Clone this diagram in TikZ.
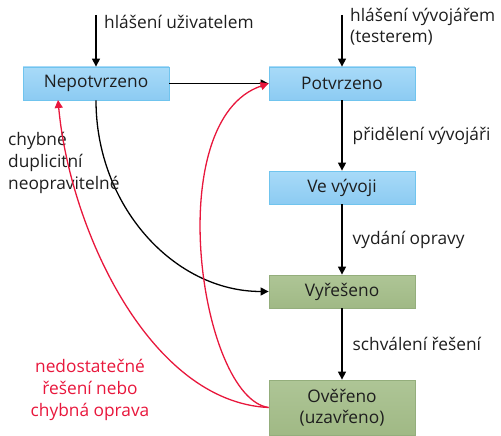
\documentclass[tikz,border=0pt]{standalone}
\usepackage{fontspec}
\setmainfont{Open Sans}
\usetikzlibrary{arrows.meta}
\definecolor{bluetop}{HTML}{A8DAF8}
\definecolor{bluebot}{HTML}{8CCBF2}
\definecolor{blueline}{HTML}{70C4EE}
\definecolor{greentop}{HTML}{AEC596}
\definecolor{greenbot}{HTML}{A0B985}
\definecolor{greenline}{HTML}{94AE7C}
\definecolor{myred}{HTML}{E8173C}
\definecolor{txt}{HTML}{1E1E1E}
\tikzset{
  x=1pt, y=-1pt,
  every node/.style={font=\fontsize{17.3}{21.5}\selectfont, text=txt},
  bluebox/.style={draw=blueline, line width=0.8pt, top color=bluetop, bottom color=bluebot, minimum width=146pt, minimum height=33pt, inner sep=0pt},
  greenbox/.style={draw=greenline, line width=0.8pt, top color=greentop, bottom color=greenbot, minimum width=146pt, minimum height=33pt, inner sep=0pt},
  arr/.style={-{Triangle[length=8pt,width=8pt]}, line width=1.3pt, draw=black},
  redarr/.style={-{Triangle[length=8pt,width=8pt]}, line width=1.3pt, draw=myred},
  lbl/.style={anchor=west, inner sep=0pt, align=left},
}
\begin{document}
\begin{tikzpicture}
\useasboundingbox (0,0) rectangle (501,436);
\node[bluebox] (nep) at (96,83.5) {Nepotvrzeno};
\node[bluebox] (pot) at (342,83.5) {Potvrzeno};
\node[bluebox] (vyv) at (342,187.5) {Ve vývoji};
\node[greenbox] (vyr) at (342,291.5) {Vyřešeno};
\node[greenbox, minimum height=55pt, align=center] (over) at (342,407.5) {Ověřeno\\(uzavřeno)};

\coordinate (s1) at (96,15);
\coordinate (s2) at (342,15);
\draw[arr] (s1) -- (nep.north);
\draw[arr] (s2) -- (pot.north);
\node[lbl] (l1) at (104,22) {hlášení uživatelem};
\node[lbl] (l2) at (350,26.5) {hlášení vývojářem\\(testerem)};

\draw[arr] (nep.east) -- (pot.west);
\draw[arr] (pot.south) -- node[lbl, right=10pt] {přidělení vývojáři} (vyv.north);
\draw[arr] (vyv.south) -- node[lbl, right=10pt] {vydání opravy} (vyr.north);
\draw[arr] (vyr.south) -- node[lbl, right=10pt] {schválení řešení} (over.north);

\draw[arr] (nep.south) .. controls (96,206) and (174,291.5) .. (vyr.west);

\node[lbl, font=\fontsize{17.3}{22}\selectfont] (l3) at (8,163) {chybné\\duplicitní\\neopravitelné};

\coordinate (nepr) at (58,100);
\draw[redarr] (over.west) .. controls (150,402) and (70,230) .. (nepr);
\draw[redarr] (over.west) .. controls (200,398) and (160,120) .. (pot.west);

\node[align=center, text=myred, font=\fontsize{17.3}{22}\selectfont] (l4) at (90,390) {nedostatečné\\řešení nebo\\chybná oprava};
\end{tikzpicture}
\end{document}
